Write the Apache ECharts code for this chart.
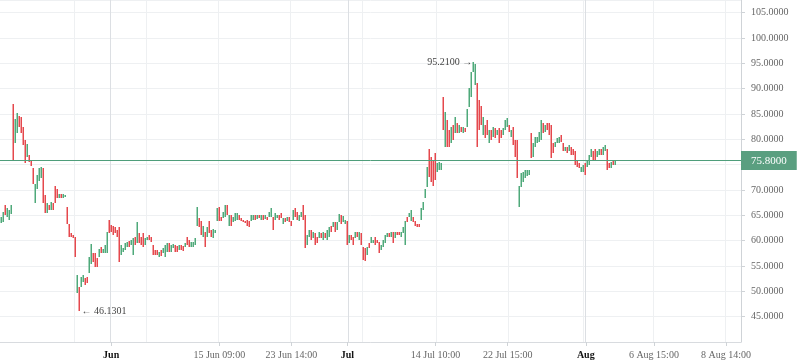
<!DOCTYPE html>
<html><head><meta charset="utf-8">
<script src="https://cdn.jsdelivr.net/npm/echarts@6/dist/echarts.min.js"></script>
<style>html,body{margin:0;padding:0;background:#fff}#c{width:798px;height:363px}</style>
</head><body><div id="c"></div>
<script>
const opens = [
63.5,63.7,67.1,64.7,64.1,65.3,87.0,79.3,81.3,84.7,
84.5,82.5,79.9,76.6,77.0,76.0,74.4,67.5,70.1,71.8,
72.4,74.4,69.1,65.5,67.1,66.1,67.5,70.7,70.1,68.5,
69.3,68.5,68.7,66.7,63.2,61.6,61.2,60.8,49.7,50.9,
50.9,51.9,52.7,52.9,53.7,55.3,57.6,57.6,56.6,56.8,
58.8,57.6,57.6,57.6,64.1,63.0,62.8,62.6,62.2,62.6,
57.2,57.8,58.2,58.8,60.0,59.2,57.2,60.8,59.6,61.6,
60.8,61.6,59.2,60.2,61.2,60.8,59.2,58.2,58.2,56.8,
58.2,57.6,56.8,57.8,59.6,57.8,58.6,59.2,59.0,58.2,
59.2,59.0,58.8,60.8,60.2,58.8,58.8,59.2,62.8,64.5,
63.8,60.8,61.8,60.8,63.8,62.2,60.6,61.6,63.8,66.7,
64.7,64.5,64.7,67.1,62.8,65.1,63.6,63.8,64.1,65.1,
64.5,64.1,63.9,64.1,63.8,63.8,64.1,65.1,64.3,65.1,
64.1,65.1,64.3,64.7,64.7,64.7,64.7,64.1,64.5,65.1,
65.5,63.2,64.5,63.8,64.7,63.8,64.1,66.5,65.7,63.8,
64.7,67.1,65.1,59.2,60.8,62.2,60.6,61.6,60.8,60.6,
61.6,60.2,61.6,60.2,60.8,62.8,62.6,63.6,62.2,63.6,
65.1,63.6,63.2,63.8,59.6,61.2,60.8,60.6,61.8,60.2,
61.6,58.8,58.6,57.2,59.6,59.6,59.6,60.8,60.2,59.8,
58.2,58.8,59.6,60.8,61.6,60.8,61.8,60.6,61.8,61.8,
60.8,61.6,59.2,64.7,64.7,63.8,64.7,63.8,63.2,63.2,
64.1,66.1,68.5,70.5,78.0,76.6,76.0,77.4,73.6,74.0,
74.0,88.4,78.4,83.9,81.9,79.3,82.9,81.3,83.3,81.3,
82.5,81.3,82.3,82.5,86.3,88.4,93.2,90.8,91.2,87.8,
86.5,80.9,82.9,83.9,79.3,81.9,80.5,82.3,80.9,82.3,
81.9,80.9,81.9,82.5,82.9,80.5,82.5,79.9,79.9,66.7,
70.5,71.6,72.4,72.8,73.0,81.3,76.6,78.4,79.3,79.5,
79.9,83.3,81.5,83.3,83.3,82.9,79.3,78.5,79.3,79.3,
80.9,79.3,77.6,78.5,77.6,78.4,78.0,77.6,76.0,75.4,
73.6,73.6,75.4,74.6,75.0,76.6,77.6,78.0,76.6,77.0,
78.0,77.0,77.6,78.0,75.4,74.4,76.0,75.0
];
const closes = [
64.7,65.7,65.1,66.5,66.1,67.1,76.0,84.1,85.1,82.5,
81.3,78.9,75.4,79.1,75.6,74.8,71.1,71.1,73.0,74.4,
74.6,67.5,65.5,67.5,66.1,67.7,66.1,67.5,68.5,69.3,
68.5,69.3,69.1,63.2,60.8,60.8,60.6,56.8,53.3,46.1301,
52.9,53.3,51.3,51.7,56.8,59.4,55.7,54.9,54.9,58.4,
57.6,58.4,59.2,61.8,61.6,61.8,61.2,61.6,60.8,55.7,
59.2,58.6,59.6,59.8,58.8,60.2,60.6,59.2,63.6,59.6,
59.2,58.8,60.6,60.8,60.2,59.8,57.2,57.2,57.2,57.8,
57.0,58.6,59.2,59.6,57.8,59.2,59.4,57.8,57.8,59.2,
58.2,58.0,59.6,59.2,58.8,59.8,59.8,60.6,66.7,62.6,
61.2,62.8,58.8,62.6,61.6,60.8,62.4,62.2,66.5,63.8,
63.8,65.7,67.1,65.1,65.1,62.8,64.7,65.5,65.5,64.1,
63.8,63.6,63.6,62.8,62.6,65.1,65.1,64.1,65.1,64.5,
65.1,64.1,65.1,64.1,65.7,66.5,62.2,65.5,65.1,64.1,
64.5,64.5,63.6,64.7,63.6,62.8,66.1,64.7,64.1,65.1,
65.7,64.1,58.6,61.2,62.2,60.2,61.8,59.2,59.6,61.8,
60.6,61.8,60.6,62.2,62.6,61.8,63.6,61.8,63.6,65.3,
63.2,64.9,64.1,59.2,61.2,60.2,59.2,61.8,60.8,61.8,
59.2,56.2,55.9,58.8,58.6,60.8,60.2,59.2,59.6,57.6,
59.2,60.2,61.2,61.6,60.8,61.8,59.6,61.8,61.2,61.2,
61.8,62.6,63.8,63.6,65.5,66.1,63.6,62.8,62.6,62.6,
66.5,67.7,70.1,74.6,72.6,71.5,70.7,72.0,75.4,75.6,
75.4,81.9,85.3,78.5,78.5,82.5,79.9,84.5,81.3,82.9,
81.5,82.5,81.5,85.9,90.2,93.2,95.21,94.9,78.4,81.9,
82.9,84.5,80.3,80.9,81.9,79.9,82.5,80.3,81.9,79.3,
80.3,82.3,83.9,84.3,81.5,81.9,78.9,76.6,72.4,70.7,
73.4,73.6,74.0,74.0,74.0,76.4,79.3,80.5,80.5,81.5,
83.9,81.3,82.9,81.9,80.9,76.4,77.4,79.5,80.3,80.5,
79.5,77.6,78.5,77.4,78.9,77.0,77.0,75.0,74.6,74.4,
74.6,75.0,73.0,76.0,77.0,78.0,76.0,76.0,77.6,78.0,
77.0,78.4,78.8,74.0,74.4,75.6,75.0,75.8
];
const totalSlots = 370;
const tickLabels = ['Jun','15 Jun 09:00','23 Jun 14:00','Jul','14 Jul 10:00','22 Jul 15:00','Aug','6 Aug 15:00','8 Aug 14:00'];
const tickSlots = [55,109,145,173,217,253,292,326,362];
const monthLabels = ['Jun','Jul','Aug'];
const gridSlots = [37,55,73,109,145,174,181,218,254,291,292,326,362];
const gridStrong = [55,174,292];
const yTicks = {min:40, max:107.5, step:5};

const UP = '#4fa97a', DOWN = '#e5484d', PRICE = '#4f9e7b';
const FONT = '"Liberation Serif", "Times New Roman", serif';

const categories = [];
for (let i = 0; i < totalSlots; i++) {
  const k = tickSlots.indexOf(i);
  categories.push(k >= 0 ? tickLabels[k] : 's' + i);
}
const bars = opens.map((o, i) => [i, o, closes[i]]);
let hiIdx = 0, loIdx = 0;
bars.forEach((d, i) => {
  if (Math.max(d[1], d[2]) > Math.max(bars[hiIdx][1], bars[hiIdx][2])) hiIdx = i;
  if (Math.min(d[1], d[2]) < Math.min(bars[loIdx][1], bars[loIdx][2])) loIdx = i;
});
const hiVal = Math.max(opens[hiIdx], closes[hiIdx]);
const loVal = Math.min(opens[loIdx], closes[loIdx]);
const lastClose = closes[closes.length - 1];
const gridColors = gridSlots.map(s => gridStrong.includes(s) ? '#dcdfe3' : '#eef0f2');

function renderBar(params, api) {
  const idx = api.value(0);
  const o = api.value(1), c = api.value(2);
  const p1 = api.coord([idx, o]);
  const p2 = api.coord([idx, c]);
  const top = Math.round(Math.min(p1[1], p2[1]));
  const bot = Math.round(Math.max(p1[1], p2[1]));
  return {
    type: 'rect',
    shape: {x: Math.floor(p1[0]) - 0.5, y: top, width: 1.5, height: Math.max(bot - top, 2)},
    style: {fill: c >= o ? UP : DOWN, stroke: null, lineWidth: 0, opacity: 1}
  };
}

const chart = echarts.init(document.getElementById('c'), null, {renderer: 'canvas'});
chart.setOption({
  animation: false,
  backgroundColor: '#ffffff',
  grid: {left: 0, right: 57, top: 0, bottom: 21, containLabel: false},
  xAxis: {
    type: 'category',
    data: categories,
    boundaryGap: true,
    axisLine: {show: true, lineStyle: {color: '#d8dbdf'}},
    axisTick: {show: true, alignWithLabel: true, length: 4, lineStyle: {color: '#cfd3d7'},
      interval: (i) => tickSlots.includes(i)},
    axisLabel: {
      interval: (i) => tickSlots.includes(i),
      fontFamily: FONT, fontSize: 10, color: '#666', margin: 8,
      formatter: (v) => monthLabels.includes(v) ? '{m|' + v + '}' : v,
      rich: {m: {fontFamily: FONT, fontSize: 10, color: '#111', fontWeight: 'bold'}}
    },
    splitLine: {show: true, interval: (i) => gridSlots.includes(i),
      lineStyle: {color: gridColors, width: 1}}
  },
  yAxis: {
    type: 'value', position: 'right', scale: false,
    min: yTicks.min, max: yTicks.max, interval: yTicks.step,
    axisLine: {show: true, lineStyle: {color: '#cfd3d7'}},
    axisTick: {show: true, length: 4, lineStyle: {color: '#cfd3d7'}},
    axisLabel: {showMinLabel: false, showMaxLabel: false, fontFamily: FONT, fontSize: 10, color: '#666', margin: 10,
      formatter: (v) => v.toFixed(4)},
    splitLine: {show: true, lineStyle: {color: '#eef0f2'}}
  },
  series: [{
    type: 'custom',
    data: bars,
    encode: {x: 0, y: [1, 2]},
    renderItem: renderBar,
    markLine: {
      silent: true, symbol: ['none', 'none'],
      lineStyle: {color: PRICE, width: 1, type: 'solid'},
      label: {show: true, position: 'end', distance: 0, formatter: (p) => p.value.toFixed(4),
        color: '#fff', backgroundColor: '#5a9f80', fontFamily: FONT, fontSize: 11,
        padding: [4, 10, 4, 10]},
      data: [{yAxis: lastClose}]
    },
    markPoint: {
      silent: true, symbol: 'circle', symbolSize: 1,
      itemStyle: {color: 'rgba(0,0,0,0)'},
      data: [
        {coord: [hiIdx, hiVal], value: hiVal,
          label: {show: true, position: 'left', distance: 1, formatter: (p) => p.value.toFixed(4) + ' \u2192',
            color: '#444', fontFamily: FONT, fontSize: 10}},
        {coord: [loIdx, loVal], value: loVal,
          label: {show: true, position: 'right', distance: 2, formatter: (p) => '\u2190 ' + p.value.toFixed(4),
            color: '#444', fontFamily: FONT, fontSize: 10}}
      ]
    }
  }]
});
</script></body></html>
